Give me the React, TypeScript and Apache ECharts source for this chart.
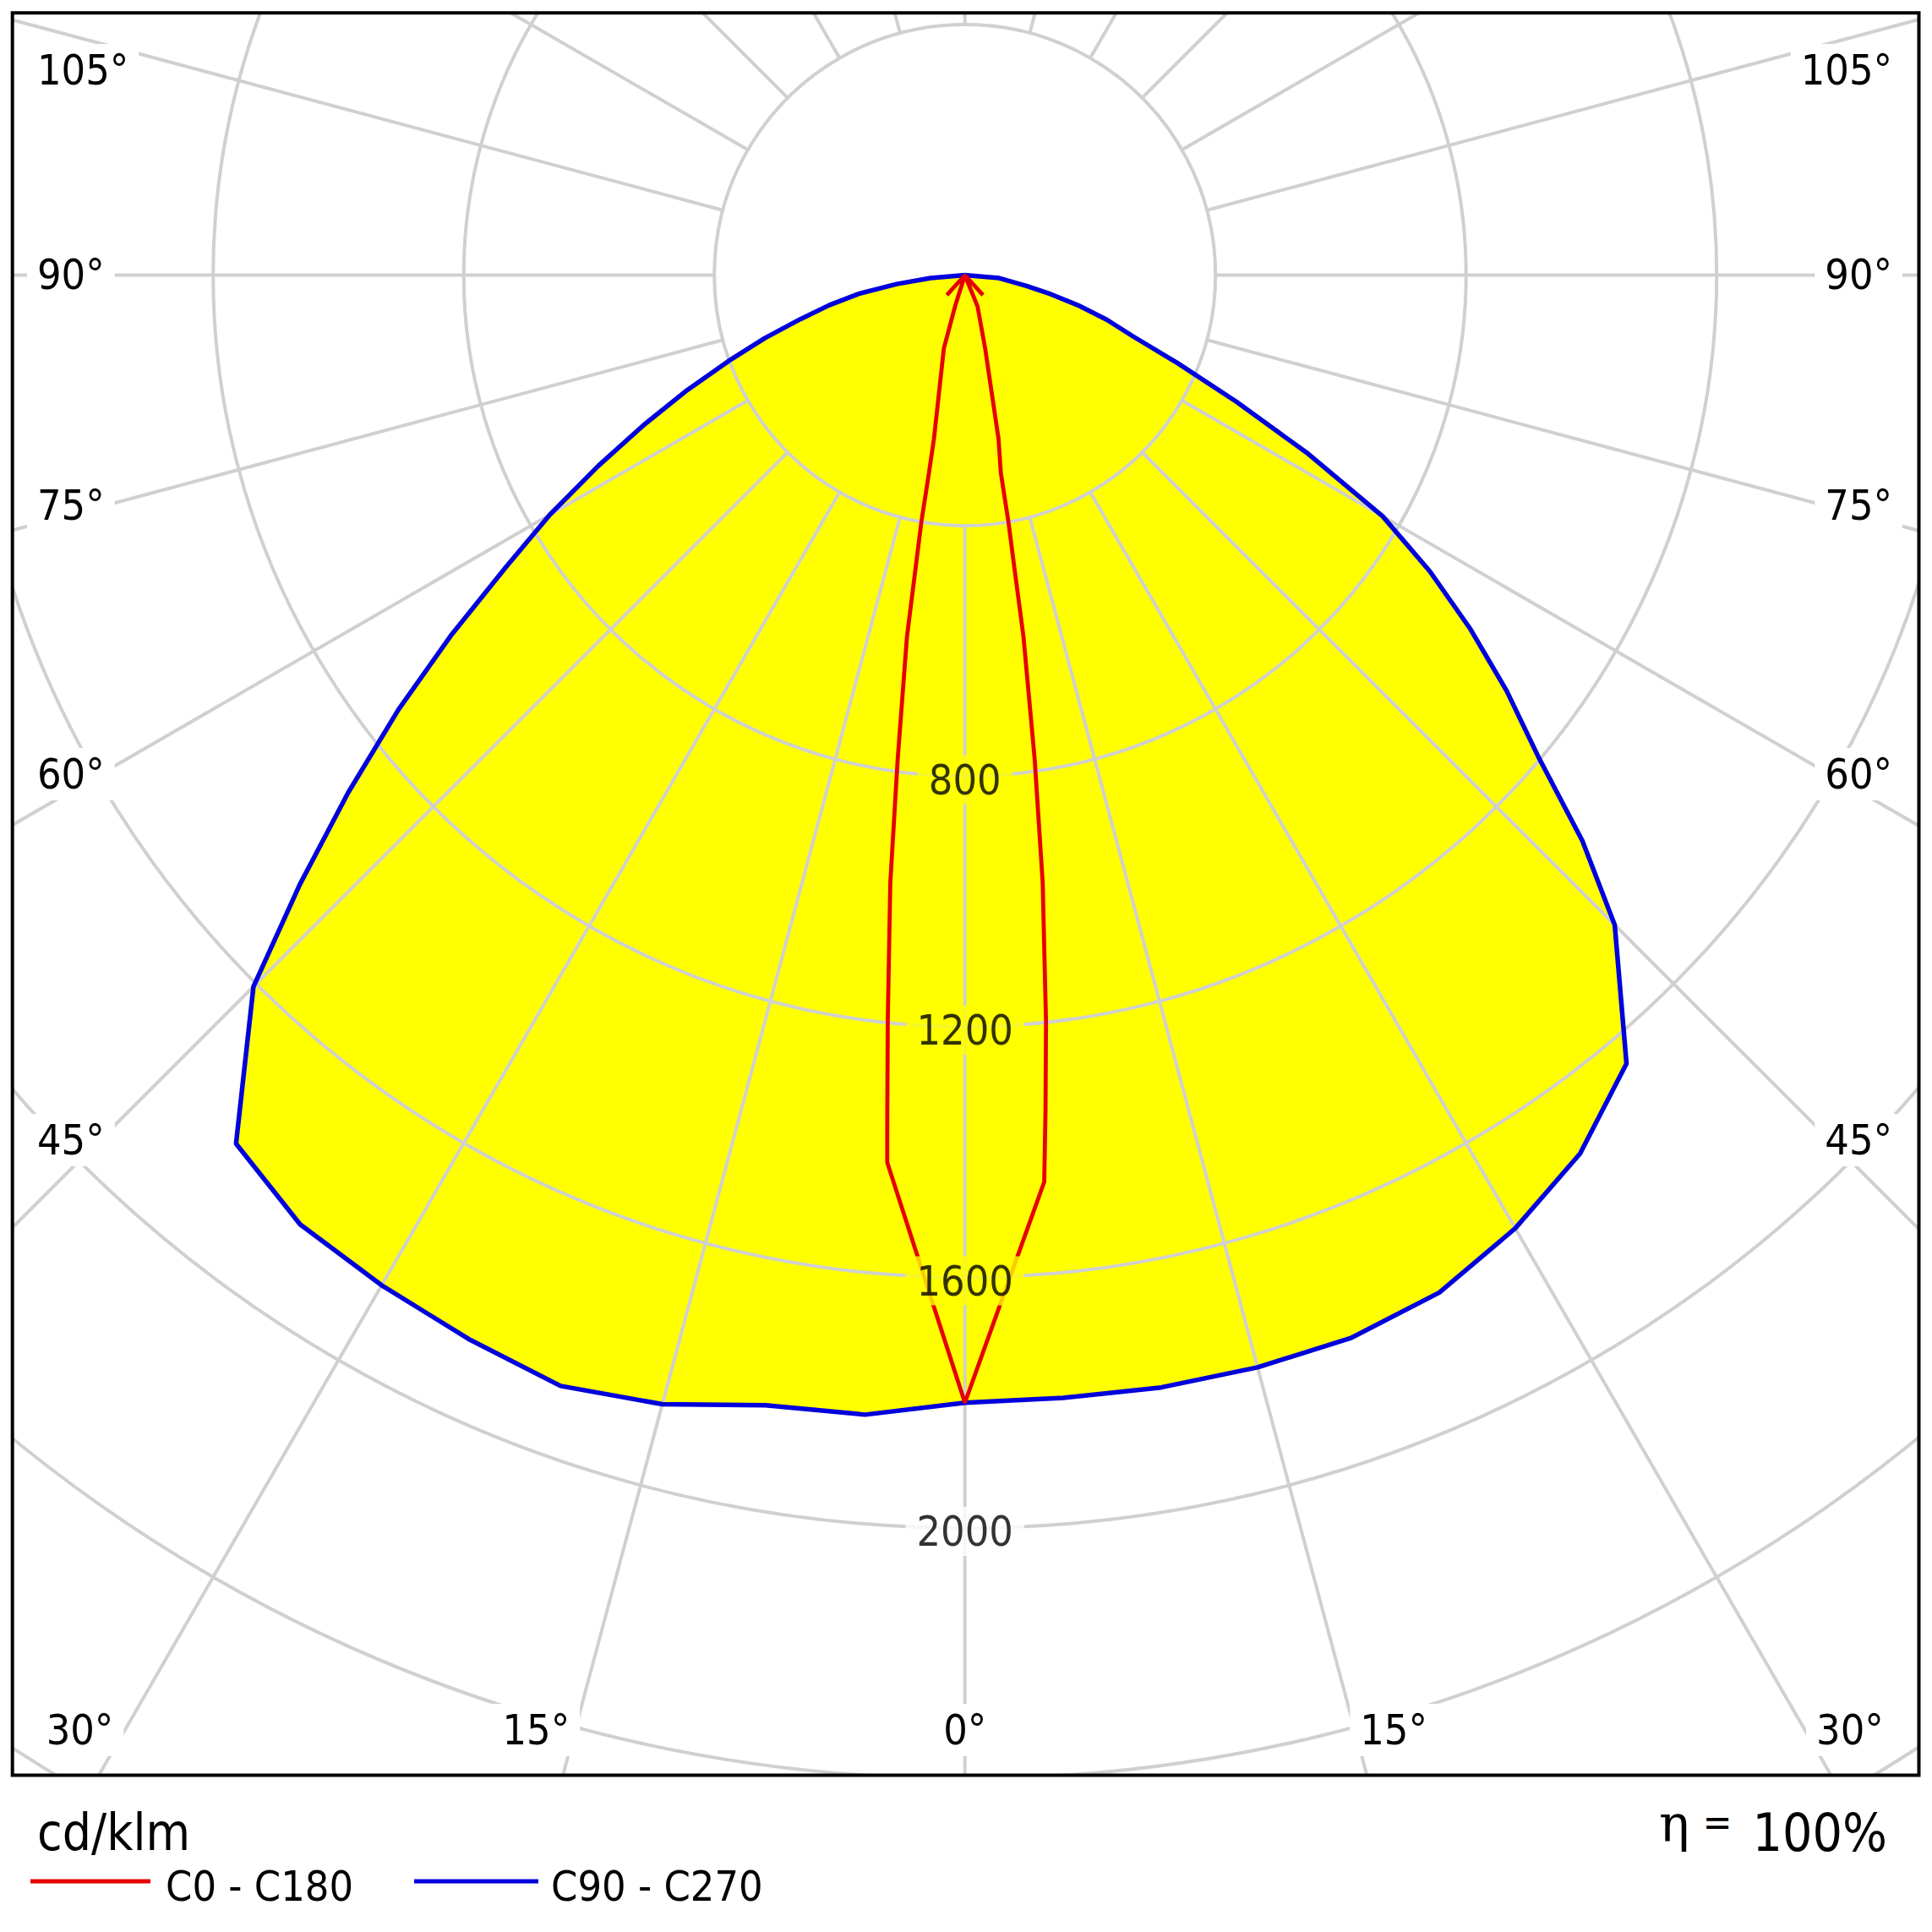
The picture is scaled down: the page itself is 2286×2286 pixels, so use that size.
import React, { useEffect, useRef } from "react";
import * as echarts from "echarts";

// ---------------- data (cd/klm), angles γ in degrees from nadir ----------------
// C90 plane (right half of the C90 - C270 curve)
const c90Angles = [0, 5, 10, 15, 20, 25, 30, 35, 40, 45, 47.5, 50, 52.5, 55, 57.5, 60, 62.5, 65, 67.5, 70, 72.5, 75, 77.5, 80, 85, 90];
const c90Values = [1800, 1799, 1803, 1805, 1805, 1792, 1757, 1712, 1643, 1467, 1337, 1194, 1090, 985, 880, 770, 618, 478, 368, 285, 238, 188, 140, 100, 55, 0];
// C270 plane (left half of the C90 - C270 curve)
const c270Angles = [0, 5, 10, 15, 20, 25, 30, 35, 40, 45, 47.5, 50, 52.5, 55, 57.5, 60, 62.5, 65, 67.5, 70, 72.5, 75, 77.5, 80, 82.5, 85, 90];
const c270Values = [1800, 1826, 1832, 1866, 1887, 1874, 1862, 1850, 1810, 1606, 1440, 1285, 1140, 1000, 870, 765, 660, 565, 480, 402, 335, 272, 222, 172, 110, 55, 0];
// C0 plane (right half of the C0 - C180 curve)
const c0Angles = [0, 5, 5.5, 6.2, 7.3, 8.2, 9.2, 9.6, 10, 10.3, 11.6, 15.4, 22, 30, 42, 50, 90];
const c0Values = [1800, 1453, 1342, 1199, 977, 781, 585, 473, 400, 321, 267, 122, 54, 0, 43, 0, 0];
// C180 plane (left half of the C0 - C180 curve)
const c180Angles = [0, 5, 5.3, 5.9, 7, 7.9, 9.1, 10, 10.3, 10.7, 16, 17.5, 30, 42, 50, 90];
const c180Values = [1800, 1422, 1341, 1198, 977, 781, 585, 400, 321, 266, 122, 52, 0, 43, 0, 0];

const radiusTickValues = [800, 1200, 1600, 2000];
const sideAngleLabels = [105, 90, 75, 60, 45];
const bottomAngleLabels = [30, 15, 0];
const legendNames = ["C0 - C180", "C90 - C270"];
const unitLabel = "cd/klm";
const etaSymbol = "η";
const efficiencyText = "100%";

// ---------------- layout / style ----------------
const SIZE = 2286;
const CX = 1141.7;
const CY = 325.5;
const PX_PER_400 = 296.5;
const RADIUS_MAX = 3200;
const RMAX_PX = (RADIUS_MAX / 400) * PX_PER_400;
const FRAME = { left: 14.7, top: 15.3, right: 2270.5, bottom: 2100.5 };
const SIDE_LABEL_Y = [83, 325, 598, 916, 1349];
const SIDE_LABEL_LEFT_X = 44;
const SIDE_LABEL_RIGHT_X = 2239;
const BOTTOM_LABEL_DX = [1047.2, 507.4, 0];
const BOTTOM_LABEL_Y = 2047;

const FONT = "'DejaVu Sans Condensed', 'DejaVu Sans', sans-serif";
const YELLOW = "#ffff00";
const RED = "#e60000";
const BLUE = "#0000dc";
const GRID = "#d0d0d0";

const half = (angles: number[], values: number[], sign: number) =>
  angles.map((a, i) => [values[i], sign * a]);
const joinSides = (la: number[], lv: number[], ra: number[], rv: number[]) => [
  ...half(la, lv, -1).reverse(),
  ...half(ra, rv, 1).slice(1),
];

const blueLine = joinSides(c270Angles, c270Values, c90Angles, c90Values);
const redLine = joinSides(c180Angles, c180Values, c0Angles, c0Values);

function buildOption() {
  const hidden = {
    axisLine: { show: false },
    axisTick: { show: false },
    axisLabel: { show: false },
  };
  const labelText = (text: string, x: number, y: number, align: string) => ({
    type: "text",
    x,
    y,
    z: 20,
    silent: true,
    style: {
      text,
      fontSize: 50,
      fontFamily: FONT,
      fill: "#000",
      align,
      textAlign: align,
      verticalAlign: "middle",
      textVerticalAlign: "middle",
      backgroundColor: "#ffffff",
      padding: [6, 12],
    },
  });
  const PAD = 12;
  const elements: any[] = [];
  sideAngleLabels.forEach((a, i) => {
    elements.push(labelText(`${a}°`, SIDE_LABEL_LEFT_X - PAD, SIDE_LABEL_Y[i], "left"));
    elements.push(labelText(`${a}°`, SIDE_LABEL_RIGHT_X + PAD, SIDE_LABEL_Y[i], "right"));
  });
  bottomAngleLabels.forEach((a, i) => {
    const dx = BOTTOM_LABEL_DX[i];
    elements.push(labelText(`${a}°`, CX - dx, BOTTOM_LABEL_Y, "center"));
    if (dx > 0) elements.push(labelText(`${a}°`, CX + dx, BOTTOM_LABEL_Y, "center"));
  });
  // white covers outside the frame
  const cover = (x: number, y: number, w: number, h: number) => ({
    type: "rect",
    z: 40,
    silent: true,
    shape: { x, y, width: w, height: h },
    style: { fill: "#ffffff" },
  });
  elements.push(cover(0, 0, SIZE, FRAME.top));
  elements.push(cover(0, 0, FRAME.left, SIZE));
  elements.push(cover(FRAME.right, 0, SIZE - FRAME.right, SIZE));
  elements.push(cover(0, FRAME.bottom, SIZE, SIZE - FRAME.bottom));
  elements.push({
    type: "rect",
    z: 45,
    silent: true,
    shape: {
      x: FRAME.left,
      y: FRAME.top,
      width: FRAME.right - FRAME.left,
      height: FRAME.bottom - FRAME.top,
    },
    style: { fill: "none", stroke: "#000", lineWidth: 4 },
  });
  const plainText = (text: string, x: number, y: number, align: string, size: number, family = FONT) => ({
    type: "text",
    x,
    y,
    z: 50,
    silent: true,
    style: {
      text,
      fontSize: size,
      fontFamily: family,
      fill: "#000",
      align,
      textAlign: align,
      verticalAlign: "middle",
      textVerticalAlign: "middle",
    },
  });
  elements.push(plainText(unitLabel, 44, 2168, "left", 60));
  // legend
  const legendLine = (x1: number, x2: number, color: string) => ({
    type: "line",
    z: 50,
    silent: true,
    shape: { x1, y1: 2226, x2, y2: 2226 },
    style: { stroke: color, lineWidth: 5 },
  });
  elements.push(legendLine(36, 178, RED));
  elements.push(plainText(legendNames[0], 196, 2232, "left", 50));
  elements.push(legendLine(490, 637, BLUE));
  elements.push(plainText(legendNames[1], 652, 2232, "left", 50));
  // efficiency
  elements.push(plainText(etaSymbol, 1981, 2158, "center", 60, "'DejaVu Serif', 'Liberation Serif', serif"));
  elements.push(plainText("=", 2032, 2156, "center", 46));
  elements.push(plainText(efficiencyText, 2233, 2168, "right", 62));

  return {
    animation: false,
    backgroundColor: "#ffffff",
    textStyle: { fontFamily: FONT },
    polar: [
      { center: [CX, CY], radius: [0, RMAX_PX] },
      { center: [CX, CY], radius: [PX_PER_400, RMAX_PX] },
    ],
    angleAxis: [
      {
        polarIndex: 0,
        type: "value",
        min: -180,
        max: 180,
        startAngle: 90,
        clockwise: false,
        ...hidden,
        splitLine: { show: false },
      },
      {
        polarIndex: 1,
        type: "value",
        min: 0,
        max: 360,
        interval: 15,
        startAngle: 90,
        clockwise: false,
        z: 2,
        ...hidden,
        splitLine: { show: true, lineStyle: { color: GRID, width: 4 } },
      },
    ],
    radiusAxis: [
      {
        polarIndex: 0,
        type: "value",
        min: 0,
        max: RADIUS_MAX,
        ...hidden,
        splitLine: { show: false },
      },
      {
        polarIndex: 1,
        type: "value",
        min: 400,
        max: RADIUS_MAX,
        interval: 400,
        z: 2,
        ...hidden,
        splitLine: { show: true, lineStyle: { color: GRID, width: 4 } },
      },
    ],
    series: [
      {
        type: "custom",
        coordinateSystem: "polar",
        polarIndex: 0,
        z: 1,
        silent: true,
        data: [[0, 0]],
        renderItem: (_params: any, api: any) => ({
          type: "polygon",
          shape: { points: blueLine.map((p) => api.coord(p)) },
          style: { fill: YELLOW, stroke: "none" },
        }),
      },
      {
        type: "line",
        name: legendNames[1],
        coordinateSystem: "polar",
        polarIndex: 0,
        z: 3,
        silent: true,
        clip: false,
        showSymbol: false,
        symbol: "none",
        data: blueLine,
        lineStyle: { color: BLUE, width: 5.5 },
      },
      {
        type: "line",
        name: legendNames[0],
        coordinateSystem: "polar",
        polarIndex: 0,
        z: 4,
        silent: true,
        clip: false,
        showSymbol: false,
        symbol: "none",
        data: redLine,
        lineStyle: { color: RED, width: 4.8 },
      },
      {
        type: "scatter",
        coordinateSystem: "polar",
        polarIndex: 0,
        z: 6,
        silent: true,
        symbolSize: 1,
        itemStyle: { color: "rgba(0,0,0,0)" },
        data: radiusTickValues.map((v) => ({
          value: [v, 0],
          label: { backgroundColor: v < c90Values[0] ? YELLOW : "#ffffff" },
        })),
        label: {
          show: true,
          position: "inside",
          formatter: (p: any) => String(p.value[0]),
          fontSize: 50,
          fontFamily: FONT,
          color: "#000",
          padding: [4, 13],
          offset: [0, 4],
        },
      },
    ],
    graphic: { elements },
  };
}

export default function App() {
  const ref = useRef<HTMLDivElement>(null);
  useEffect(() => {
    if (!ref.current) return;
    const chart = echarts.init(ref.current, null, { renderer: "svg" });
    chart.setOption(buildOption() as any);
    return () => chart.dispose();
  }, []);
  return (
    <div
      ref={ref}
      style={{ position: "fixed", left: 0, top: 0, width: SIZE, height: SIZE, background: "#fff" }}
    />
  );
}
